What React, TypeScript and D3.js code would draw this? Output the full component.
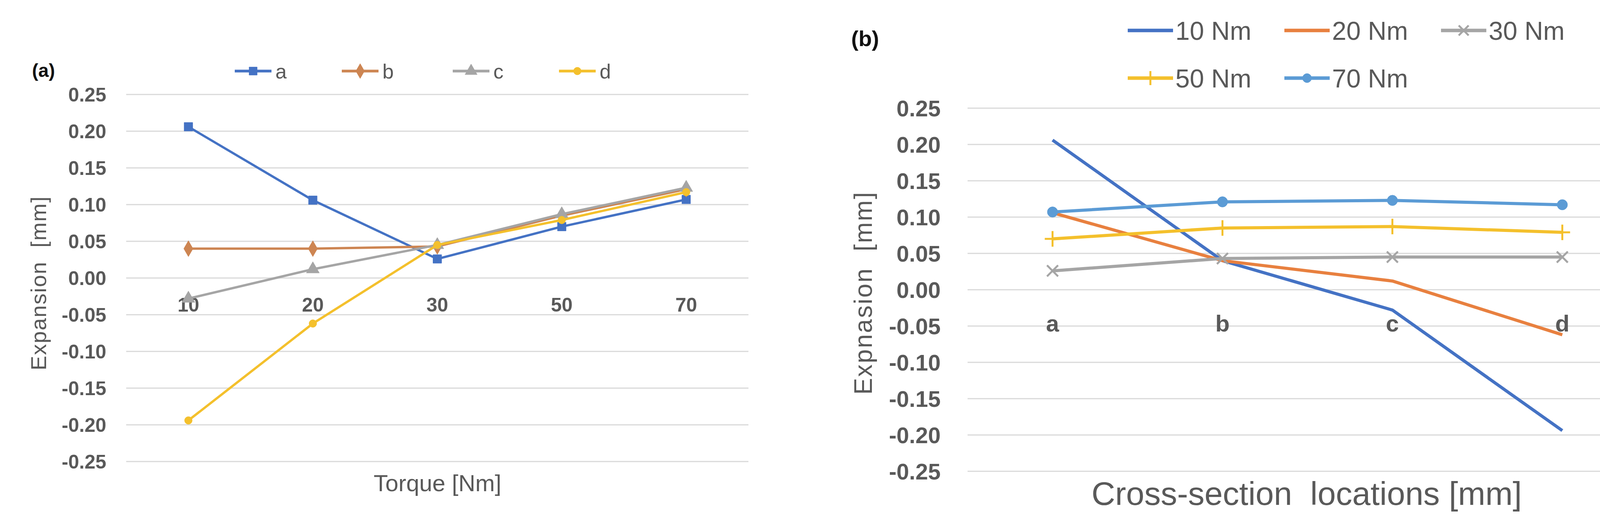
import * as d3 from 'd3';

// values read per cross-section location, one entry per torque step
const TORQUES = ['10', '20', '30', '50', '70'];
const LOCATIONS = ['a', 'b', 'c', 'd'];
const LOC_A = [0.206, 0.106, 0.026, 0.07, 0.107];
const LOC_B = [0.04, 0.04, 0.043, 0.085, 0.121];
const LOC_C = [-0.028, 0.012, 0.045, 0.087, 0.123];
const LOC_D = [-0.194, -0.062, 0.045, 0.079, 0.117];
const Y_TICKS = [0.25, 0.2, 0.15, 0.1, 0.05, 0, -0.05, -0.1, -0.15, -0.2, -0.25];

const LOC_SERIES = [LOC_A, LOC_B, LOC_C, LOC_D];
const LOC_COLORS = ['#4472C4', '#CD8552', '#A5A5A5', '#F4C02C'];
const LOC_MARKERS = [d3.symbolSquare, d3.symbolDiamond, d3.symbolTriangle, d3.symbolCircle];

const TORQUE_LABELS = ['10 Nm', '20 Nm', '30 Nm', '50 Nm', '70 Nm'];
const TORQUE_COLORS = ['#4472C4', '#E8803F', '#A5A5A5', '#F4C02C', '#5B9BD5'];
const TORQUE_MARKERS = [null, null, d3.symbolX, d3.symbolPlus, d3.symbolCircle];

const W = 4278;
const H = 1342;
const GRID = '#D9D9D9';
const TXT = '#595959';
const SANS = '"Liberation Sans", Arial, sans-serif';
const NARROW = '"Liberation Sans Narrow", "Liberation Sans", sans-serif';

const fmt = (v: number) => v.toFixed(2);

function Marker({ type, x, y, color, size }: any) {
  if (!type) return null;
  const stroke = type === d3.symbolX || type === d3.symbolPlus;
  const path = d3.symbol().type(type).size(size)() || '';
  return (
    <path
      d={path}
      transform={`translate(${x},${y})`}
      fill={stroke ? 'none' : color}
      stroke={color}
      strokeWidth={stroke ? 5 : 1}
    />
  );
}

function PanelA() {
  const x = d3.scalePoint<string>().domain(TORQUES).range([323, 1916]).padding(0.5);
  const y = d3.scaleLinear().domain([-0.25, 0.25]).range([1182, 242]);
  const line = d3
    .line<number>()
    .x((_, i) => x(TORQUES[i]) as number)
    .y((d) => y(d));

  const legendX = [601, 875, 1159, 1431];

  return (
    <g>
      {Y_TICKS.map((t) => (
        <g key={t}>
          <line x1={323} x2={1916} y1={y(t)} y2={y(t)} stroke={GRID} strokeWidth={3} />
          <text x={272} y={y(t)} dy="0.36em" textAnchor="end" fontFamily={SANS} fontWeight="bold" fontSize={50} fill={TXT}>
            {fmt(t)}
          </text>
        </g>
      ))}
      {TORQUES.map((t) => (
        <text key={t} x={x(t)} y={y(0) + 86} textAnchor="middle" fontFamily={SANS} fontWeight="bold" fontSize={50} fill={TXT}>
          {t}
        </text>
      ))}
      {LOC_SERIES.map((s, k) => (
        <g key={k}>
          <path d={line(s) || ''} fill="none" stroke={LOC_COLORS[k]} strokeWidth={6} strokeLinejoin="round" />
          {s.map((v, i) => (
            <Marker key={i} type={LOC_MARKERS[k]} x={x(TORQUES[i])} y={y(v)} color={LOC_COLORS[k]} size={k === 3 ? 300 : 480} />
          ))}
        </g>
      ))}
      {LOCATIONS.map((l, k) => (
        <g key={l} transform={`translate(${legendX[k]},182)`}>
          <line x1={0} x2={94} stroke={LOC_COLORS[k]} strokeWidth={7} />
          <Marker type={LOC_MARKERS[k]} x={47} y={0} color={LOC_COLORS[k]} size={k === 3 ? 300 : 420} />
          <text x={104} dy="0.36em" fontFamily={SANS} fontSize={52} fill={TXT}>
            {l}
          </text>
        </g>
      ))}
      <text x={82} y={197} fontFamily={SANS} fontWeight="bold" fontSize={48} fill="#111">
        (a)
      </text>
      <text
        transform="translate(118,725) rotate(-90)"
        textAnchor="middle"
        fontFamily={SANS}
        fontSize={56}
        letterSpacing={2}
        fill={TXT}
      >
        {'Expansion\u00a0\u00a0[mm]'}
      </text>
      <text x={1120} y={1258} textAnchor="middle" fontFamily={SANS} fontSize={60} fill={TXT}>
        Torque [Nm]
      </text>
    </g>
  );
}

function PanelB() {
  const x = d3.scalePoint<string>().domain(LOCATIONS).range([2477, 4217]).padding(0.5);
  const y = d3.scaleLinear().domain([-0.25, 0.25]).range([1207, 277]);
  const line = d3
    .line<number>()
    .x((_, i) => x(LOCATIONS[i]) as number)
    .y((d) => y(d));

  // transpose: one series per torque across locations
  const series = TORQUES.map((_, ti) => LOC_SERIES.map((s) => s[ti]));
  const legendPos = [
    [2887, 78],
    [3288, 78],
    [3689, 78],
    [2887, 200],
    [3288, 200],
  ];

  return (
    <g>
      {Y_TICKS.map((t) => (
        <g key={t}>
          <line x1={2477} x2={4222} y1={y(t)} y2={y(t)} stroke={GRID} strokeWidth={3} />
          <text x={2408} y={y(t)} dy="0.36em" textAnchor="end" fontFamily={SANS} fontWeight="bold" fontSize={58} fill={TXT}>
            {fmt(t)}
          </text>
        </g>
      ))}
      {LOCATIONS.map((l) => (
        <text key={l} x={x(l)} y={y(0) + 107} textAnchor="middle" fontFamily={SANS} fontWeight="bold" fontSize={60} fill={TXT}>
          {l}
        </text>
      ))}
      {series.map((s, k) => (
        <g key={k}>
          <path d={line(s) || ''} fill="none" stroke={TORQUE_COLORS[k]} strokeWidth={8} strokeLinejoin="round" />
          {s.map((v, i) => (
            <Marker key={i} type={TORQUE_MARKERS[k]} x={x(LOCATIONS[i])} y={y(v)} color={TORQUE_COLORS[k]} size={k === 4 ? 560 : 520} />
          ))}
        </g>
      ))}
      {TORQUE_LABELS.map((l, k) => (
        <g key={l} transform={`translate(${legendPos[k][0]},${legendPos[k][1]})`}>
          <line x1={0} x2={116} stroke={TORQUE_COLORS[k]} strokeWidth={9} />
          <Marker type={TORQUE_MARKERS[k]} x={58} y={0} color={TORQUE_COLORS[k]} size={k === 4 ? 420 : 420} />
          <text x={122} dy="0.36em" fontFamily={NARROW} fontSize={66} fill={TXT}>
            {l}
          </text>
        </g>
      ))}
      <text x={2179} y={118} fontFamily={SANS} fontWeight="bold" fontSize={56} fill="#111">
        (b)
      </text>
      <text
        transform="translate(2232,750) rotate(-90)"
        textAnchor="middle"
        fontFamily={SANS}
        fontSize={64}
        letterSpacing={3}
        fill={TXT}
      >
        {'Expnasion\u00a0\u00a0[mm]'}
      </text>
      <text x={3345} y={1293} textAnchor="middle" fontFamily={NARROW} fontSize={84} fill={TXT}>
        {'Cross-section\u00a0\u00a0locations [mm]'}
      </text>
    </g>
  );
}

export default function App() {
  return (
    <svg
      width={W}
      height={H}
      viewBox={`0 0 ${W} ${H}`}
      style={{ position: 'absolute', left: 0, top: 0, background: '#fff' }}
    >
      <rect width={W} height={H} fill="#fff" />
      <PanelA />
      <PanelB />
    </svg>
  );
}
